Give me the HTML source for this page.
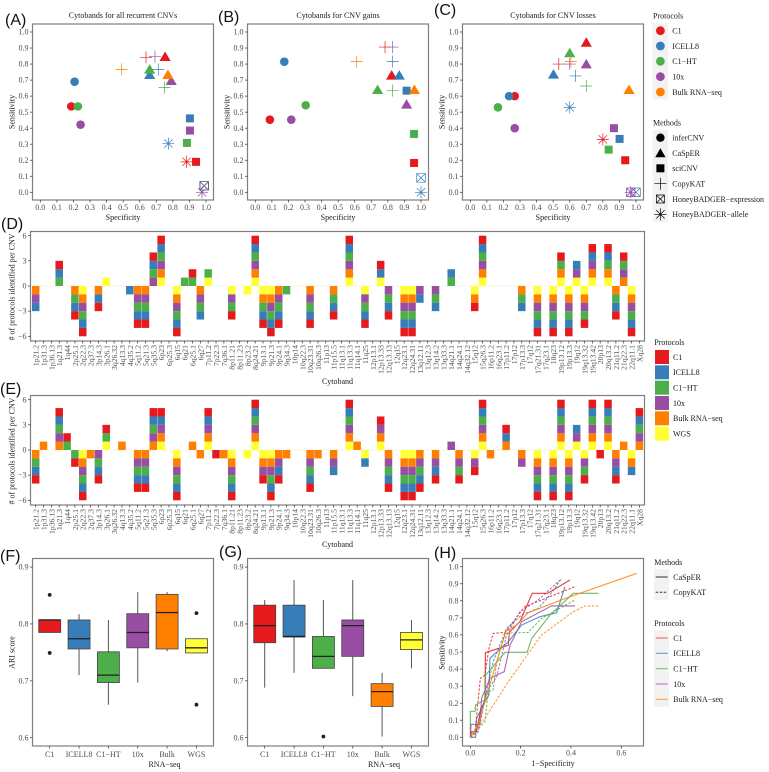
<!DOCTYPE html>
<html>
<head>
<meta charset="utf-8">
<title>CNV benchmarking figure</title>
<style>
html,body{margin:0;padding:0;background:#fff;}
svg{display:block;filter:blur(.3px);}
text{font-family:"Liberation Serif",serif;fill:#1a1a1a;}
.letter{font-family:"Liberation Sans",sans-serif;font-size:16px;fill:#111;}
.title{font-size:8px;text-anchor:middle;}
.atitle{font-size:8px;text-anchor:middle;}
.leg{font-size:8px;}
.tick{font-size:8px;fill:#4d4d4d;}
.band{font-size:7.7px;fill:#4d4d4d;}
.frame{fill:none;stroke:#7f7f7f;stroke-width:1.2;}
.keybg{fill:#f2f2f2;}
</style>
</head>
<body>
<svg id="fig" xmlns="http://www.w3.org/2000/svg" width="769" height="772" viewBox="0 0 769 772">
<rect x="0" y="0" width="769" height="772" fill="#fff"/>
<text class="letter" x="5" y="25">(A)</text>
<text class="letter" x="218" y="22">(B)</text>
<text class="letter" x="434" y="15">(C)</text>
<text class="letter" x="1" y="229">(D)</text>
<text class="letter" x="0" y="394">(E)</text>
<text class="letter" x="0" y="561">(F)</text>
<text class="letter" x="219" y="557">(G)</text>
<text class="letter" x="434" y="558">(H)</text>

<text class="title" x="123" y="18">Cytobands for all recurrent CNVs</text>
<text class="title" x="338" y="18">Cytobands for CNV gains</text>
<text class="title" x="553" y="18">Cytobands for CNV losses</text>

<rect class="frame" x="32.5" y="24" width="181" height="176"/>
<rect class="frame" x="247.5" y="24" width="181" height="176"/>
<rect class="frame" x="462.5" y="24" width="181" height="176"/>
<rect class="frame" x="30.5" y="231.5" width="614" height="109.5"/>
<rect class="frame" x="30.5" y="395.5" width="614" height="109.5"/>
<rect class="frame" x="32.5" y="558.5" width="181" height="187.5"/>
<rect class="frame" x="247.5" y="558.5" width="181" height="187.5"/>
<rect class="frame" x="462.5" y="558.5" width="181" height="187.5"/>

<text class="atitle" x="123" y="220">Specificity</text>
<text class="atitle" x="338" y="220">Specificity</text>
<text class="atitle" x="553" y="220">Specificity</text>
<text class="atitle" transform="translate(14.5,112) rotate(-90)">Sensitivity</text>
<text class="atitle" transform="translate(229.5,112) rotate(-90)">Sensitivity</text>
<text class="atitle" transform="translate(444.5,112) rotate(-90)">Sensitivity</text>
<text class="atitle" style="font-size:7.9px" transform="translate(14.5,287) rotate(-90)"># of protocols identified per CNV</text>
<text class="atitle" style="font-size:7.9px" transform="translate(14.5,451) rotate(-90)"># of protocols identified per CNV</text>
<text class="atitle" x="337.5" y="384">Cytoband</text>
<text class="atitle" x="337.5" y="547">Cytoband</text>
<text class="atitle" transform="translate(14.5,652.5) rotate(-90)">ARI score</text>
<text class="atitle" x="164.5" y="767">RNA−seq</text>
<text class="atitle" x="384" y="767">RNA−seq</text>
<text class="atitle" transform="translate(444.5,652.5) rotate(-90)">Sensitivity</text>
<text class="atitle" x="553" y="766">1−Specificity</text>

<!-- Scatter legends -->
<g>
<text class="leg" x="653" y="18.5">Protocols</text>
<rect class="keybg" x="652.7" y="23.3" width="15.3" height="76"/>
<circle cx="660.4" cy="30.7" r="4.4" fill="#E41A1C"/>
<circle cx="660.4" cy="46" r="4.4" fill="#377EB8"/>
<circle cx="660.4" cy="61.3" r="4.4" fill="#4DAF4A"/>
<circle cx="660.4" cy="76.7" r="4.4" fill="#984EA3"/>
<circle cx="660.4" cy="92" r="4.4" fill="#FF7F00"/>
<text class="leg" x="672.3" y="33.5">C1</text>
<text class="leg" x="672.3" y="48.8">ICELL8</text>
<text class="leg" x="672.3" y="64.1">C1−HT</text>
<text class="leg" x="672.3" y="79.5">10x</text>
<text class="leg" x="672.3" y="94.8">Bulk RNA−seq</text>
</g>
<g>
<text class="leg" x="653" y="125.5">Methods</text>
<rect class="keybg" x="652.7" y="130" width="15.3" height="92"/>
<circle cx="660.4" cy="137.7" r="4.2" fill="#000"/>
<path d="M655.2 157.2L660.4 148.2L665.6 157.2Z" fill="#000"/>
<rect x="656.4" y="164.3" width="8" height="8" fill="#000"/>
<path d="M654.4 183.7H666.4M660.4 177.7V189.7" stroke="#000" stroke-width=".7" fill="none"/>
<path d="M656.4 195H664.4V203H656.4ZM656.4 195L664.4 203M664.4 195L656.4 203" stroke="#000" stroke-width=".7" fill="none"/>
<path d="M654.4 214.3H666.4M660.4 208.3V220.3M656.2 210.1L664.6 218.5M664.6 210.1L656.2 218.5" stroke="#000" stroke-width=".7" fill="none"/>
<text class="leg" x="672.3" y="140.5">inferCNV</text>
<text class="leg" x="672.3" y="155.8">CaSpER</text>
<text class="leg" x="672.3" y="171.1">sciCNV</text>
<text class="leg" x="672.3" y="186.5">CopyKAT</text>
<text class="leg" style="font-size:7.9px" x="672.3" y="201.8">HoneyBADGER−expression</text>
<text class="leg" x="672.3" y="217.1">HoneyBADGER−allele</text>
</g>

<!-- Bar legend -->
<g>
<text class="leg" x="654.3" y="345">Protocols</text>
<rect x="655" y="350" width="14" height="14" fill="#E41A1C"/>
<rect x="655" y="365.3" width="14" height="14" fill="#377EB8"/>
<rect x="655" y="380.7" width="14" height="14" fill="#4DAF4A"/>
<rect x="655" y="396" width="14" height="14" fill="#984EA3"/>
<rect x="655" y="411.3" width="14" height="14" fill="#FF7F00"/>
<rect x="655" y="426.7" width="14" height="14" fill="#FFFF33"/>
<text class="leg" x="673" y="359.8">C1</text>
<text class="leg" x="673" y="375.1">ICELL8</text>
<text class="leg" x="673" y="390.5">C1−HT</text>
<text class="leg" x="673" y="405.8">10x</text>
<text class="leg" x="673" y="421.1">Bulk RNA−seq</text>
<text class="leg" x="673" y="436.5">WGS</text>
</g>

<!-- ROC legends -->
<g>
<text class="leg" x="654.3" y="565">Methods</text>
<rect class="keybg" x="654" y="569" width="15" height="31"/>
<line x1="655.7" x2="667.7" y1="577" y2="577" stroke="#333" stroke-width="1"/>
<line x1="655.7" x2="667.7" y1="592.3" y2="592.3" stroke="#333" stroke-width="1" stroke-dasharray="2.5,1.5"/>
<text class="leg" x="673.3" y="579.8">CaSpER</text>
<text class="leg" x="673.3" y="595.1">CopyKAT</text>
</g>
<g>
<text class="leg" x="654.3" y="626">Protocols</text>
<rect class="keybg" x="654" y="630" width="15" height="76.7"/>
<line x1="655.7" x2="667.7" y1="638" y2="638" stroke="#E41A1C" stroke-opacity=".7"/>
<line x1="655.7" x2="667.7" y1="653.3" y2="653.3" stroke="#377EB8" stroke-opacity=".8"/>
<line x1="655.7" x2="667.7" y1="668.7" y2="668.7" stroke="#4DAF4A" stroke-opacity=".8"/>
<line x1="655.7" x2="667.7" y1="684" y2="684" stroke="#984EA3" stroke-opacity=".8"/>
<line x1="655.7" x2="667.7" y1="699.3" y2="699.3" stroke="#FF7F00" stroke-opacity=".8"/>
<text class="leg" x="673.3" y="640.8">C1</text>
<text class="leg" x="673.3" y="656.1">ICELL8</text>
<text class="leg" x="673.3" y="671.5">C1−HT</text>
<text class="leg" x="673.3" y="686.8">10x</text>
<text class="leg" x="673.3" y="702.1">Bulk RNA−seq</text>
</g>
</svg>

<script>
// ---------- shared labels ----------
const protocolNames = ['C1','ICELL8','C1-HT','10x','Bulk','WGS'];
const unitTicks = [0,0.1,0.2,0.3,0.4,0.5,0.6,0.7,0.8,0.9,1];
const stackTicks = [6,3,0,-3,-6];
const ariTicks = [0.6,0.7,0.8,0.9];
const boxLabels = ['C1','ICELL8','C1−HT','10x','Bulk','WGS'];
const rocXTicks = [0,0.2,0.4,0.6];
const rocYTicks = [0,0.1,0.2,0.3,0.4,0.5,0.6,0.7,0.8,0.9,1];
const cytobands = ['1p21.2','1p31.3','1p36.13','1q21.3','1q44','2p25.1','2q22.3','2q37.3','3p14.3','3p26.1','3q26.32','4q13.3','4q35.2','5q11.2','5q21.3','5q35.3','6p23','6p25.3','6q15','6q21','6q25.1','6q27','7p11.2','7p22.3','7q36.1','8p11.21','8p11.23','8p23.2','8q24.21','9p13.1','9p21.3','9p24.1','9q34.3','10p14','10q22.3','10q23.31','10q26.3','11p13','11p15.5','11q13.1','11q13.3','11q14.1','11q25','12p13.1','12p13.33','12q13.13','12q15','12q23.1','12q24.31','13q12.11','13q12.3','13q14.2','13q33.3','14q21.1','14q24.1','14q32.12','15q12','15q26.3','16p11.2','16q23.1','17p11.2','17p12','17p13.3','17q12','17q21.31','17q23.1','18q23','19p13.12','19p13.3','19q12','19q13.32','19q13.42','20p13','20q13.2','21q11.2','21q22.3','22q11.1','Xq28'];

// ---------- scatter A (index = C1, ICELL8, C1-HT, 10x, Bulk) ----------
const A_inferCNV_spec = [.187,.207,.227,.243,null];
const A_inferCNV_sens = [.536,.69,.536,.422,null];
const A_CaSpER_spec = [.753,.66,.66,.79,.77];
const A_CaSpER_sens = [.846,.734,.767,.696,.734];
const A_sciCNV_spec = [.94,.903,.885,.903,null];
const A_sciCNV_sens = [.19,.461,.308,.385,null];
const A_CopyKAT_spec = [.638,.712,.75,.692,.491];
const A_CopyKAT_sens = [.842,.767,.653,.846,.767];
const A_HBexpr_spec = [.99,.988,null,null,null];
const A_HBexpr_sens = [.04,.04,null,null,null];
const A_HBallele_spec = [.883,.773,null,.976,null];
const A_HBallele_sens = [.19,.304,null,0,null];
// ---------- scatter B ----------
const B_inferCNV_spec = [.088,.175,.304,.217,null];
const B_inferCNV_sens = [.453,.815,.543,.453,null];
const B_CaSpER_spec = [.823,.869,.738,.913,.96];
const B_CaSpER_sens = [.73,.73,.64,.549,.64];
const B_sciCNV_spec = [.958,.913,.958,null,null];
const B_sciCNV_sens = [.183,.634,.364,null,null];
const B_CopyKAT_spec = [.783,.829,.829,.829,.612];
const B_CopyKAT_sens = [.906,.815,.634,.906,.815];
const B_HBexpr_spec = [null,1,null,null,null];
const B_HBexpr_sens = [null,.09,null,null,null];
const B_HBallele_spec = [null,1,null,null,null];
const B_HBallele_sens = [null,0,null,null,null];
// ---------- scatter C ----------
const C_inferCNV_spec = [.268,.234,.167,.268,null];
const C_inferCNV_sens = [.6,.6,.53,.4,null];
const C_CaSpER_spec = [.7,.502,.6,.7,.958];
const C_CaSpER_sens = [.935,.736,.869,.8,.64];
const C_sciCNV_spec = [.935,.901,.835,.867,null];
const C_sciCNV_sens = [.2,.333,.266,.4,null];
const C_CopyKAT_spec = [.534,.635,.7,.6,.607];
const C_CopyKAT_sens = [.8,.726,.663,.8,.815];
const C_HBexpr_spec = [null,1,null,.968,null];
const C_HBexpr_sens = [null,0,null,0,null];
const C_HBallele_spec = [.8,.6,null,.968,null];
const C_HBallele_sens = [.33,.53,null,0,null];

// ---------- stacked bars D: +1 gain, -1 loss, per cytoband ----------
const D_C1 = [0,0,0,1,0,-1,-1,0,-1,0, 0,0,0,-1,-1,1,1,0,-1,0, 1,0,0,0,0,-1,0,0,1,-1, -1,-1,0,0,0,-1,0,0,-1,0, 1,0,-1,0,1,-1,0,-1,-1,0, 0,0,0,0,0,0,-1,1,0,0, 0,0,0,0,-1,0,-1,1,-1,0, -1,1,0,1,-1,1,-1,0];
const D_ICELL8 = [-1,0,0,1,0,-1,-1,0,-1,0, 0,0,-1,-1,-1,1,1,0,-1,0, 0,-1,0,0,0,0,0,0,1,-1, -1,-1,0,0,0,-1,0,0,-1,0, 1,0,-1,0,1,-1,0,-1,-1,-1, 0,-1,0,1,0,0,0,1,0,0, 0,0,-1,0,-1,0,-1,0,-1,1, 0,1,0,1,-1,0,-1,0];
const D_C1HT = [0,0,0,1,0,-1,-1,0,0,0, 0,0,0,-1,-1,1,1,0,-1,1, 1,-1,1,0,0,-1,0,0,1,-1, -1,-1,-1,0,0,-1,0,0,-1,0, 1,0,-1,0,0,-1,0,-1,-1,0, 0,-1,0,1,0,0,0,1,0,0, 0,0,-1,0,-1,0,-1,1,-1,0, -1,0,0,1,-1,1,-1,0];
const D_10x = [-1,0,0,0,0,0,-1,0,0,0, 0,0,0,-1,-1,1,1,0,-1,0, 0,-1,0,0,0,-1,0,0,1,0, -1,-1,0,0,0,-1,0,0,0,0, 1,0,-1,0,0,-1,0,-1,-1,-1, 0,-1,0,0,0,0,0,1,0,0, 0,0,0,0,-1,0,-1,0,-1,1, -1,1,0,0,0,1,-1,0];
const D_Bulk = [-1,0,0,0,0,-1,-1,0,-1,0, 0,0,0,-1,-1,0,1,0,-1,0, 0,-1,0,0,0,0,0,0,1,-1, -1,-1,0,0,0,-1,0,0,-1,0, 1,0,0,0,0,0,0,-1,-1,0, 0,0,0,0,0,0,-1,1,0,0, 0,0,-1,0,-1,0,-1,1,-1,0, -1,1,0,1,-1,1,-1,0];
const D_WGS = [0,0,0,0,0,0,-1,0,0,1, 0,0,0,0,0,0,1,0,-1,0, 0,0,1,0,0,-1,0,-1,1,-1, -1,0,0,0,0,0,0,0,0,0, 1,0,-1,0,1,0,0,-1,-1,0, 0,0,0,0,0,0,-1,1,0,0, 0,0,0,0,-1,0,-1,1,-1,1, -1,1,0,1,0,0,-1,0];
// ---------- stacked bars E ----------
const E_C1 = [-1,0,0,1,1,-1,-1,0,-1,1, 0,0,0,-1,-1,1,1,0,-1,0, 0,0,1,-1,0,-1,0,0,1,-1, -1,-1,0,0,0,-1,0,0,0,0, 1,0,0,0,1,-1,0,-1,-1,-1, 0,-1,0,0,-1,0,-1,1,0,0, 1,0,0,0,-1,0,-1,1,-1,0, -1,1,-1,1,-1,0,0,1];
const E_ICELL8 = [-1,0,0,1,0,0,-1,0,-1,0, 0,0,0,-1,-1,1,1,0,-1,0, 0,0,1,0,0,-1,0,0,1,0, -1,-1,0,0,0,-1,0,0,-1,0, 1,0,-1,0,0,-1,0,-1,-1,-1, 0,-1,0,0,0,0,0,1,0,0, 1,0,0,0,-1,0,-1,1,-1,1, 0,1,0,1,-1,0,-1,1];
const E_C1HT = [-1,0,0,1,1,-1,-1,0,-1,1, 0,0,0,-1,-1,1,0,0,-1,0, 0,0,0,0,0,-1,0,0,1,0, -1,0,0,0,0,-1,0,0,0,0, 1,0,0,0,0,-1,0,-1,-1,-1, 0,0,0,0,-1,0,0,1,0,0, 0,0,0,0,-1,0,-1,1,-1,0, -1,1,0,1,0,0,0,1];
const E_10x = [0,0,0,1,0,0,-1,0,-1,0, 0,0,0,-1,-1,1,1,0,-1,0, 0,0,1,0,0,-1,0,0,1,-1, -1,-1,0,0,0,-1,0,0,-1,0, 1,0,0,0,1,-1,0,-1,-1,-1, 0,-1,0,1,-1,0,-1,1,0,0, 0,0,-1,0,-1,0,-1,1,-1,1, -1,1,0,1,-1,0,0,1];
const E_Bulk = [-1,1,0,1,0,0,-1,-1,0,0, 0,1,0,-1,-1,1,1,0,-1,0, 1,-1,1,0,-1,-1,0,0,1,-1, -1,-1,-1,0,0,-1,-1,0,-1,0, 1,1,0,0,1,-1,0,-1,-1,-1, 0,-1,0,0,-1,0,0,1,-1,0, 1,0,-1,0,-1,0,-1,1,-1,0, 0,1,0,1,-1,1,-1,1];
const E_WGS = [0,0,0,0,0,0,-1,0,0,1, 0,0,0,0,0,0,1,0,-1,0, 0,0,1,0,0,-1,0,-1,1,-1, -1,0,0,0,0,0,0,0,0,0, 1,0,-1,0,1,0,0,-1,-1,0, 0,0,0,0,0,0,-1,1,0,0, 0,0,0,0,-1,0,-1,1,-1,1, -1,1,0,1,0,0,-1,0];

// ---------- box plots F ----------
const F_low = [.785,.71,.658,.697,.752,.749];
const F_q1 = [.785,.756,.697,.758,.756,.749];
const F_med = [.807,.774,.71,.785,.82,.758];
const F_q3 = [.807,.807,.751,.818,.852,.774];
const F_high = [.807,.817,.807,.856,.856,.774];
const F_outliers = [[.851,.749],[],[],[],[],[.819,.658]];
// ---------- box plots G ----------
const G_low = [.688,.714,.722,.673,.602,.722];
const G_q1 = [.767,.777,.722,.743,.655,.755];
const G_med = [.797,.778,.743,.797,.681,.772];
const G_q3 = [.833,.833,.778,.807,.695,.785];
const G_high = [.842,.877,.842,.877,.714,.807];
const G_outliers = [[],[],[.602],[],[],[]];

// ---------- ROC H ----------
const H_casper_C1_x = [0,.005,.025,.042,.058,.06,.151,.155,.197,.246,.307,.396];
const H_casper_C1_y = [0,.033,.033,.17,.21,.496,.54,.615,.678,.844,.844,.922];
const H_casper_ICELL8_x = [0,.021,.025,.052,.074,.078,.151,.204,.277,.343,.376];
const H_casper_ICELL8_y = [0,0,.111,.19,.248,.463,.56,.658,.707,.73,.883];
const H_casper_C1HT_x = [0,0,.019,.021,.058,.061,.138,.226,.244,.317,.409,.509];
const H_casper_C1HT_y = [0,.152,.152,.19,.219,.365,.498,.498,.58,.717,.844,.844];
const H_casper_10x_x = [0,.003,.038,.045,.078,.135,.158,.204,.323,.416];
const H_casper_10x_y = [0,.076,.076,.229,.346,.385,.541,.678,.77,.77];
const H_casper_Bulk_x = [0,.032,.065,.105,.142,.184,.23,.389,.661];
const H_casper_Bulk_y = [0,.072,.248,.443,.623,.658,.73,.82,.961];
const H_copykat_C1_x = [0,.019,.04,.058,.074,.091,.138,.217,.416];
const H_copykat_C1_y = [0,.043,.346,.365,.521,.609,.615,.766,.883];
const H_copykat_ICELL8_x = [0,.025,.058,.091,.144,.204,.27,.317,.363];
const H_copykat_ICELL8_y = [0,.053,.229,.443,.639,.717,.756,.834,.932];
const H_copykat_C1HT_x = [0,.058,.072,.091,.105,.138,.23,.283,.416];
const H_copykat_C1HT_y = [0,.092,.268,.277,.443,.609,.615,.697,.805];
const H_copykat_10x_x = [0,.032,.065,.105,.144,.197,.27,.356];
const H_copykat_10x_y = [0,.033,.268,.355,.6,.736,.805,.922];
const H_copykat_Bulk_x = [0,.058,.151,.283,.409,.456,.509];
const H_copykat_Bulk_y = [0,.111,.326,.6,.736,.77,.77];

// ---------- drawing ----------
const colors = ['#E41A1C','#377EB8','#4DAF4A','#984EA3','#FF7F00','#FFFF33'];
const svg = document.getElementById('fig');
const NS = 'http://www.w3.org/2000/svg';
function mk(tag, attrs, parent){
  const e = document.createElementNS(NS, tag);
  for (const k in attrs) e.setAttribute(k, attrs[k]);
  (parent || svg).appendChild(e);
  return e;
}
function tickLabel(x, y, anchor, txt, cls){
  const t = mk('text', {x:x, y:y, 'text-anchor':anchor, 'class':cls || 'tick'});
  
  
  t.textContent = txt;
  return t;
}
function tickMark(x1, y1, x2, y2){
  const l = mk('line', {x1:x1, y1:y1, x2:x2, y2:y2, stroke:'#333', 'stroke-width':.7});
  
  
}
function fmt(v){
  return v.toFixed(1);
}

// scatter panels
function drawScatter(left, sets){
  const xS = v => left + 7.8 + v * 165.7;
  const yS = v => 192.3 - v * 160.3;
  unitTicks.forEach(v => {
    tickMark(xS(v), 200, xS(v), 202.5);
    tickLabel(xS(v), 210, 'middle', fmt(v));
    tickMark(left, yS(v), left - 2.5, yS(v));
    tickLabel(left - 4, yS(v) + 2.6, 'end', fmt(v));
  });
  sets.forEach(set => {
    set.spec.forEach((sp, i) => {
      if (sp === null) return;
      const cx = xS(sp), cy = yS(set.sens[i]), c = colors[i];
      let m;
      if (set.kind === 'circle') {
        m = mk('circle', {cx:cx, cy:cy, r:4.3, fill:c});
      } else if (set.kind === 'tri') {
        m = mk('path', {d:`M${cx-5.6} ${cy+4.3}L${cx} ${cy-5.2}L${cx+5.6} ${cy+4.3}Z`, fill:c});
      } else if (set.kind === 'square') {
        m = mk('rect', {x:cx-4, y:cy-4, width:8, height:8, fill:c});
      } else if (set.kind === 'plus') {
        m = mk('path', {d:`M${cx-6} ${cy}H${cx+6}M${cx} ${cy-6}V${cy+6}`, stroke:c, 'stroke-width':.7, fill:'none'});
      } else if (set.kind === 'boxx') {
        m = mk('path', {d:`M${cx-4.3} ${cy-4.3}H${cx+4.3}V${cy+4.3}H${cx-4.3}ZM${cx-4.3} ${cy-4.3}L${cx+4.3} ${cy+4.3}M${cx+4.3} ${cy-4.3}L${cx-4.3} ${cy+4.3}`, stroke:c, 'stroke-width':.7, fill:'none'});
      } else {
        m = mk('path', {d:`M${cx-6} ${cy}H${cx+6}M${cx} ${cy-6}V${cy+6}M${cx-4.2} ${cy-4.2}L${cx+4.2} ${cy+4.2}M${cx+4.2} ${cy-4.2}L${cx-4.2} ${cy+4.2}`, stroke:c, 'stroke-width':.7, fill:'none'});
      }
      
      
    });
  });
}
drawScatter(32.5, [
  {kind:'circle', spec:A_inferCNV_spec, sens:A_inferCNV_sens},
  {kind:'square', spec:A_sciCNV_spec, sens:A_sciCNV_sens},
  {kind:'tri', spec:A_CaSpER_spec, sens:A_CaSpER_sens},
  {kind:'plus', spec:A_CopyKAT_spec, sens:A_CopyKAT_sens},
  {kind:'boxx', spec:A_HBexpr_spec, sens:A_HBexpr_sens},
  {kind:'star', spec:A_HBallele_spec, sens:A_HBallele_sens}
]);
drawScatter(247.5, [
  {kind:'circle', spec:B_inferCNV_spec, sens:B_inferCNV_sens},
  {kind:'square', spec:B_sciCNV_spec, sens:B_sciCNV_sens},
  {kind:'tri', spec:B_CaSpER_spec, sens:B_CaSpER_sens},
  {kind:'plus', spec:B_CopyKAT_spec, sens:B_CopyKAT_sens},
  {kind:'boxx', spec:B_HBexpr_spec, sens:B_HBexpr_sens},
  {kind:'star', spec:B_HBallele_spec, sens:B_HBallele_sens}
]);
drawScatter(462.5, [
  {kind:'circle', spec:C_inferCNV_spec, sens:C_inferCNV_sens},
  {kind:'square', spec:C_sciCNV_spec, sens:C_sciCNV_sens},
  {kind:'tri', spec:C_CaSpER_spec, sens:C_CaSpER_sens},
  {kind:'plus', spec:C_CopyKAT_spec, sens:C_CopyKAT_sens},
  {kind:'boxx', spec:C_HBexpr_spec, sens:C_HBexpr_sens},
  {kind:'star', spec:C_HBallele_spec, sens:C_HBallele_sens}
]);

// stacked bar panels
function drawStack(zeroY, bottom, series){
  const xS = i => 35.7 + i * 7.84;
  const yS = v => zeroY - v * 8.383;
  const z = mk('line', {x1:30.5, x2:644.5, y1:zeroY, y2:zeroY, stroke:'#e8e8b0', 'stroke-opacity':.35, 'stroke-width':1});
  
  
  stackTicks.forEach(v => {
    tickMark(30.5, yS(v), 28, yS(v));
    tickLabel(26.5, yS(v) + 2.6, 'end', v < 0 ? '−' + (-v) : String(v));
  });
  cytobands.forEach((band, i) => {
    tickMark(xS(i), bottom, xS(i), bottom + 2.5);
    const t = mk('text', {transform:`translate(${xS(i) + 3},${bottom + 4}) rotate(-90)`, 'text-anchor':'end', 'class':'band'});
    
    
    t.textContent = band;
    let up = 0, down = 0;
    for (let p = 5; p >= 0; p--) {
      const v = series[p][i];
      if (!v) continue;
      let y0, y1;
      if (v > 0) { y0 = up; up += v; y1 = up; }
      else { y0 = down; down += v; y1 = down; }
      const r = mk('rect', {x:xS(i) - 3.75, y:Math.min(yS(y0), yS(y1)), width:7.5, height:Math.abs(yS(y1) - yS(y0)), fill:colors[p]});
      
      
    }
  });
}
drawStack(286, 341, [D_C1, D_ICELL8, D_C1HT, D_10x, D_Bulk, D_WGS]);
drawStack(450, 505, [E_C1, E_ICELL8, E_C1HT, E_10x, E_Bulk, E_WGS]);

// box plots
function drawBox(left, low, q1, med, q3, high, outliers){
  const xS = i => left + 17.2 + i * 29.35;
  const yS = v => 737.7 - (v - .6) * 568.8;
  ariTicks.forEach(v => {
    tickMark(left, yS(v), left - 2.5, yS(v));
    tickLabel(left - 4, yS(v) + 2.6, 'end', fmt(v));
  });
  boxLabels.forEach((lab, i) => {
    tickMark(xS(i), 746, xS(i), 748.5);
    tickLabel(xS(i), 757, 'middle', lab);
    const cx = xS(i);
    const w = mk('line', {x1:cx, x2:cx, y1:yS(high[i]), y2:yS(low[i]), stroke:'#555', 'stroke-width':1});
    
    
    const b = mk('rect', {x:cx - 11, y:yS(q3[i]), width:22, height:yS(q1[i]) - yS(q3[i]), fill:colors[i], stroke:'#444', 'stroke-width':.8});
    
    
    const m = mk('line', {x1:cx - 11, x2:cx + 11, y1:yS(med[i]), y2:yS(med[i]), stroke:'#222', 'stroke-width':1.3});
    
    
    outliers[i].forEach(o => {
      const c = mk('circle', {cx:cx, cy:yS(o), r:1.9, fill:'#222'});
      
      
    });
  });
}
drawBox(32.5, F_low, F_q1, F_med, F_q3, F_high, F_outliers);
drawBox(247.5, G_low, G_q1, G_med, G_q3, G_high, G_outliers);

// ROC panel
const xH = v => 470.3 + v * 251.7;
const yH = v => 737.3 - v * 170.6;
rocXTicks.forEach(v => {
  tickMark(xH(v), 746, xH(v), 748.5);
  tickLabel(xH(v), 755.5, 'middle', fmt(v));
});
rocYTicks.forEach(v => {
  tickMark(462.5, yH(v), 460, yH(v));
  tickLabel(458.5, yH(v) + 2.6, 'end', fmt(v));
});
function rocLine(xs, ys, p, dashed){
  const d = xs.map((x, i) => (i ? 'L' : 'M') + xH(x) + ' ' + yH(ys[i])).join('');
  const l = mk('path', {d:d, fill:'none', stroke:colors[p], 'stroke-width':dashed ? 1 : 1.1, 'stroke-opacity':.85, 'stroke-dasharray':dashed ? '2.5,1.5' : 'none'});
  
  
}
rocLine(H_copykat_C1_x, H_copykat_C1_y, 0, true);
rocLine(H_copykat_ICELL8_x, H_copykat_ICELL8_y, 1, true);
rocLine(H_copykat_C1HT_x, H_copykat_C1HT_y, 2, true);
rocLine(H_copykat_10x_x, H_copykat_10x_y, 3, true);
rocLine(H_copykat_Bulk_x, H_copykat_Bulk_y, 4, true);
rocLine(H_casper_C1_x, H_casper_C1_y, 0, false);
rocLine(H_casper_ICELL8_x, H_casper_ICELL8_y, 1, false);
rocLine(H_casper_C1HT_x, H_casper_C1HT_y, 2, false);
rocLine(H_casper_10x_x, H_casper_10x_y, 3, false);
rocLine(H_casper_Bulk_x, H_casper_Bulk_y, 4, false);
</script>
</body>
</html>
